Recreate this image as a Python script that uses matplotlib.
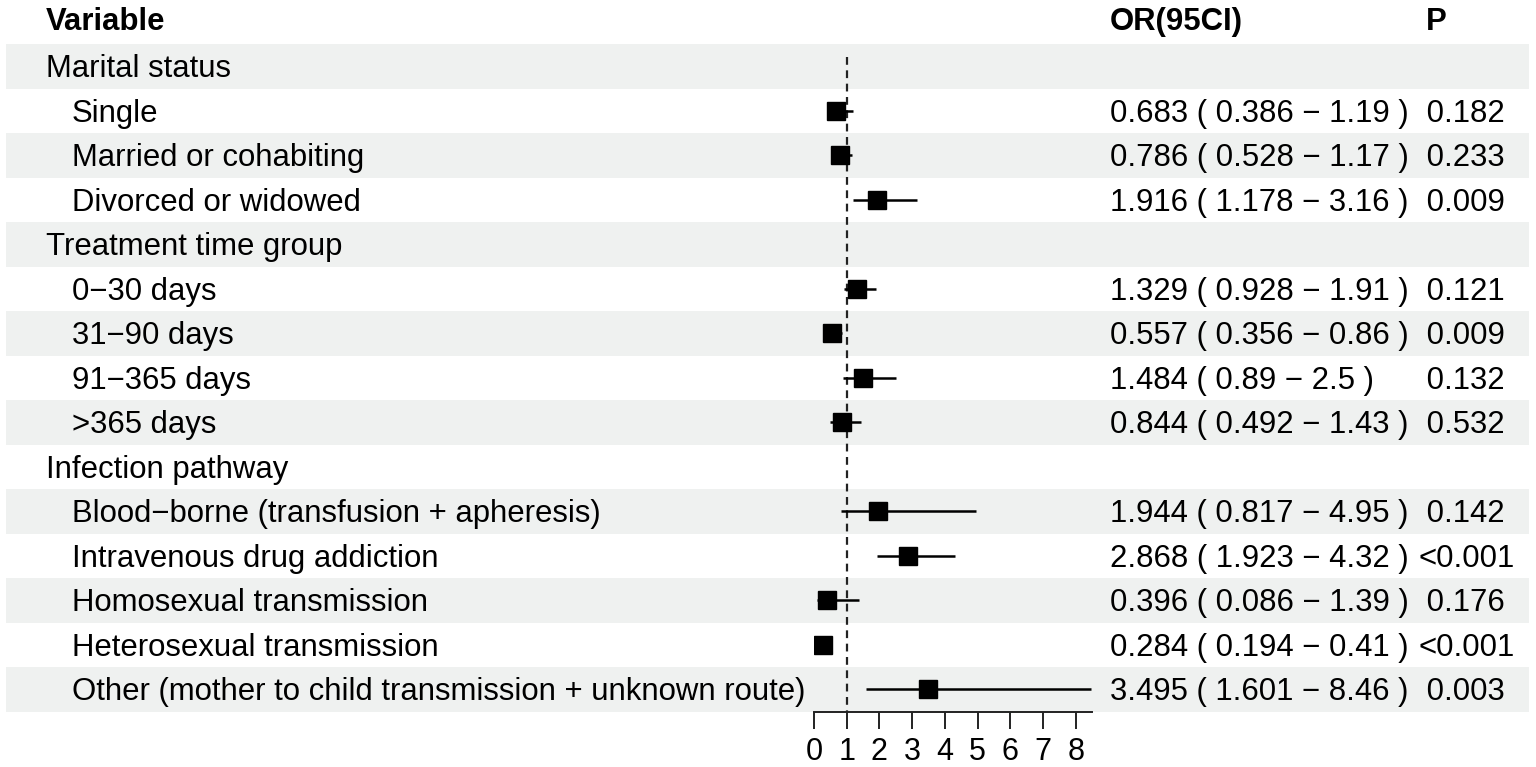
import numpy as np
import matplotlib
matplotlib.use("Agg")
import matplotlib.pyplot as plt

plt.rcParams['font.family'] = ['Liberation Sans', 'DejaVu Sans']

# rows of the forest plot
labels = ["Marital status", "Single", "Married or cohabiting", "Divorced or widowed",
          "Treatment time group", "0\u221230 days", "31\u221290 days", "91\u2212365 days", ">365 days",
          "Infection pathway", "Blood\u2212borne (transfusion + apheresis)", "Intravenous drug addiction",
          "Homosexual transmission", "Heterosexual transmission",
          "Other (mother to child transmission + unknown route)"]
is_group = [True, False, False, False, True, False, False, False, False,
            True, False, False, False, False, False]
est = [np.nan, 0.683, 0.786, 1.916, np.nan, 1.329, 0.557, 1.484, 0.844,
       np.nan, 1.944, 2.868, 0.396, 0.284, 3.495]
lo = [np.nan, 0.386, 0.528, 1.178, np.nan, 0.928, 0.356, 0.89, 0.492,
      np.nan, 0.817, 1.923, 0.086, 0.194, 1.601]
hi = [np.nan, 1.19, 1.17, 3.16, np.nan, 1.91, 0.86, 2.5, 1.43,
      np.nan, 4.95, 4.32, 1.39, 0.41, 8.46]
pvals = ["", "0.182", "0.233", "0.009", "", "0.121", "0.009", "0.132", "0.532",
         "", "0.142", "<0.001", "0.176", "<0.001", "0.003"]
xticks = [0, 1, 2, 3, 4, 5, 6, 7, 8]

W, H = 1536, 767
fig = plt.figure(figsize=(W / 100, H / 100), dpi=100)

n = len(labels)
top_px, bot_px = 44, 711.5
rows = np.arange(1, n + 1)

# background axes: full width, rows in y
ax_bg = fig.add_axes([0, 1 - bot_px / H, 1, (bot_px - top_px) / H])
ax_bg.set_xlim(0, W)
ax_bg.set_ylim(n + 0.5, 0.5)
ax_bg.axis('off')

for r in rows:
    if r % 2 == 1:
        ax_bg.axhspan(r - 0.5, r + 0.5, xmin=6 / W, xmax=1529 / W,
                      color='#eff1f0', lw=0, zorder=0)

fs = 22.4
off = 0.25  # baseline offset inside a row
ax_bg.text(46, 0.19, "Variable", fontsize=fs, fontweight='bold', va='baseline', ha='left', clip_on=False)
ax_bg.text(1110, 0.19, "OR(95CI)", fontsize=fs, fontweight='bold', va='baseline', ha='left', clip_on=False)
ax_bg.text(1426, 0.19, "P", fontsize=fs, fontweight='bold', va='baseline', ha='left', clip_on=False)

for r, lab, g, e, l, h, p in zip(rows, labels, is_group, est, lo, hi, pvals):
    ax_bg.text(46 if g else 72, r + off, lab, fontsize=fs, va='baseline', ha='left')
    if not g:
        ax_bg.text(1110, r + off, f"{e:g} ( {l:g} \u2212 {h:g} )", fontsize=fs, va='baseline', ha='left')
        ptxt = p if p.startswith("<") else " " + p
        ax_bg.text(1418, r + off, ptxt, fontsize=fs, va='baseline', ha='left')

# forest axes
x0_px, x1_px = 814, 1092
ax = fig.add_axes([x0_px / W, 1 - bot_px / H, (x1_px - x0_px) / W, (bot_px - top_px) / H])
ax.patch.set_alpha(0)
ax.set_xlim(0, 8.5)
ax.set_ylim(n + 0.5, 0.5)

ax.plot([1, 1], [0.8, n + 0.5], color='#222222', lw=1.6, ls=(0, (3.5, 2.5)), zorder=2)

e_arr = np.array(est)
mask = ~np.isnan(e_arr)
ax.hlines(rows[mask], np.array(lo)[mask], np.array(hi)[mask], color='black', lw=1.8, zorder=3)
ax.plot(e_arr[mask], rows[mask], 's', color='black', ms=13.5, zorder=4)

for s in ['top', 'right', 'left']:
    ax.spines[s].set_visible(False)
ax.spines['bottom'].set_linewidth(1.4)
ax.spines['bottom'].set_color('#222222')
ax.set_yticks([])
ax.set_xticks(xticks)
ax.tick_params(axis='x', length=12, width=1.4, color='#222222', labelsize=22, pad=6)

fig.savefig("out.png", dpi=100)
